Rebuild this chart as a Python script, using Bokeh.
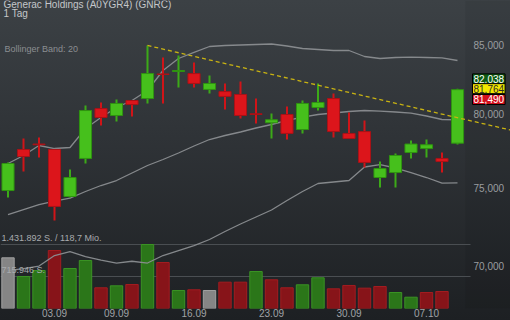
from bokeh.plotting import figure
from bokeh.models import (Range1d, LinearScale, FixedTicker, NumeralTickFormatter, Label,
                          ColumnDataSource)
from bokeh.embed import file_html
from bokeh.resources import INLINE

# ---------------- data ----------------
title_text = "Generac Holdings (A0YGR4) (GNRC)"
period_text = "1 Tag"
indicator_text = "Bollinger Band: 20"

dates = ["28.08", "29.08", "30.08", "03.09", "04.09", "05.09", "06.09", "09.09", "10.09", "11.09",
         "12.09", "13.09", "16.09", "17.09", "18.09", "19.09", "20.09", "23.09", "24.09", "25.09",
         "26.09", "27.09", "30.09", "01.10", "02.10", "03.10", "04.10", "07.10", "08.10", "09.10"]
tick_labels = ["03.09", "09.09", "16.09", "23.09", "30.09", "07.10"]

opens = [74830, 77580, 77950, 77580, 74440, 76970, 80420, 79930, 80990, 81130,
         82900, 83080, 82930, 81780, 81630, 81420, 80050, 79420, 80000, 78950,
         80490, 81130, 78680, 78810, 75690, 76020, 77370, 77640, 76970, 78010]
highs = [76700, 78330, 78400, 77600, 76230, 80630, 80850, 81060, 81000, 85000,
         84110, 84260, 83740, 82790, 82210, 82350, 81130, 80070, 80560, 80990,
         82210, 81490, 80140, 79580, 76760, 77300, 78190, 78260, 77370, 81830]
lows = [74370, 76090, 77030, 72880, 74370, 76630, 79230, 79510, 79860, 80780,
        80780, 81920, 81920, 81490, 80350, 79720, 79370, 78330, 78260, 78680,
        80280, 78400, 78330, 76360, 75030, 75030, 76970, 77030, 76020, 77920]
closes = [76630, 77100, 77900, 73790, 75690, 80280, 79790, 80780, 80700, 82930,
          82860, 83150, 82210, 82210, 81280, 79930, 80000, 79630, 78680, 80780,
          80850, 78810, 78330, 76700, 76290, 77170, 77950, 77900, 76760, 81764]

volume = [1134000, 716000, 850000, 1298000, 895000, 1074000, 463000, 507000, 537000, 1431892,
          1029000, 403000, 418000, 403000, 589000, 589000, 828000, 642000, 463000, 530000,
          687000, 440000, 515000, 455000, 492000, 358000, 253000, 358000, 380000]

bb_upper = [76628, 77168, 77850, 77644, 77713, 79020, 79789, 80493, 80990, 81704,
            83153, 84035, 84480, 84925, 85000, 85037, 85075, 85112, 84963, 84776,
            84702, 84628, 84628, 84183, 84035, 84108, 84131, 84108, 84086, 83887]
bb_middle = [73269, 73592, 73916, 74144, 74339, 74766, 75161, 75492, 75991, 76493,
             76898, 77338, 77816, 78261, 78537, 78779, 79056, 79300, 79579, 79810,
             80000, 80105, 80210, 80281, 80232, 80175, 80090, 79894, 79649, 79628]
bb_lower = [69751, 69873, 70027, 70677, 70925, 70615, 70397, 70212, 70323, 70212,
            70677, 70988, 71300, 71678, 72184, 72661, 73109, 73560, 74177, 74766,
            75293, 75392, 75492, 76393, 76560, 76326, 76024, 75691, 75313, 75338]

trend_x = [9, 33]
trend_y = [85000, 78770]

price_ticks = [70000, 75000, 80000, 85000]
vol_levels = [1431892, 715946]
vol_texts = ["1.431.892 S. / 118,7 Mio.", "715.946 S."]
quote_values = [82038, 81764, 81490]
quote_texts = ["82,038", "81,764", "81,490"]

# ---------------- styles ----------------
FONT = "Liberation Sans"
GREEN_BODY, GREEN_LINE, GREEN_WICK = "#46c01c", "#2f9410", "#3caa18"
RED_BODY, RED_LINE, RED_WICK = "#dc151b", "#a91217", "#d01418"
VOL_GREEN, VOL_GREEN_L = "#2b7619", "#3a9324"
VOL_RED, VOL_RED_L = "#871419", "#a31c20"
VOL_GRAY, VOL_GRAY_L = "#858585", "#a0a0a0"
BAND = "#8a8d90"

n = len(dates)
xs = list(range(n))
up = [c >= o for o, c in zip(opens, closes)]
x_lo = -0.484            # left frame edge in slot units
slot_px = 15.5           # one trading day in pixels
x_hi = x_lo + 510 / slot_px
axis_x = x_lo + 470 / slot_px

candles = ColumnDataSource(dict(
    x=xs,
    top=[max(o, c) for o, c in zip(opens, closes)],
    bottom=[min(o, c) for o, c in zip(opens, closes)],
    high=highs, low=lows,
    fill=[GREEN_BODY if u else RED_BODY for u in up],
    line=[GREEN_LINE if u else RED_LINE for u in up],
    wick=[GREEN_WICK if u else RED_WICK for u in up],
))

vfill, vline = [], []
for i in range(len(volume)):
    if i == 0 or closes[i] == closes[i - 1]:
        vfill.append(VOL_GRAY); vline.append(VOL_GRAY_L)
    elif closes[i] > closes[i - 1]:
        vfill.append(VOL_GREEN); vline.append(VOL_GREEN_L)
    else:
        vfill.append(VOL_RED); vline.append(VOL_RED_L)
vols = ColumnDataSource(dict(x=xs[:len(volume)], top=volume, fill=vfill, line=vline))

# ---------------- figure ----------------
p = figure(width=510, height=320, y_axis_type="log", y_axis_location="right",
           x_range=Range1d(x_lo, x_hi), y_range=Range1d(67463, 88427),
           output_backend="svg", toolbar_location=None,
           min_border_left=0, min_border_top=0, min_border_right=0, min_border_bottom=12)
p.extra_y_ranges = {"vol": Range1d(0, 6891000)}
p.extra_y_scales = {"vol": LinearScale()}
p.border_fill_color = None
p.background_fill_color = None
p.outline_line_color = None
p.styles = {"background": "linear-gradient(to bottom, #3c4145 0%, #303438 40%, #1d2023 100%)"}
p.xgrid.visible = False
p.ygrid.visible = False

# y axis (price), pinned inside the frame
p.yaxis.fixed_location = axis_x
p.yaxis.ticker = FixedTicker(ticks=price_ticks)
p.yaxis.formatter = NumeralTickFormatter(format="0,0")
p.yaxis.axis_line_color = None
p.yaxis.major_tick_line_color = None
p.yaxis.minor_tick_line_color = None
p.yaxis.major_tick_out = 0
p.yaxis.major_label_standoff = 3
p.yaxis.major_label_text_color = "#9a9da0"
p.yaxis.major_label_text_font_size = "10px"
p.yaxis.major_label_text_font = FONT

# x axis (dates)
tick_idx = [dates.index(t) for t in tick_labels]
p.xaxis.ticker = FixedTicker(ticks=tick_idx)
p.xaxis.major_label_overrides = {i: dates[i] for i in tick_idx}
p.xaxis.axis_line_color = None
p.xaxis.major_tick_line_color = None
p.xaxis.minor_tick_line_color = None
p.xaxis.major_tick_out = 0
p.xaxis.major_label_standoff = 0
p.xaxis.major_label_text_color = "#a0a3a6"
p.xaxis.major_label_text_font_size = "10px"
p.xaxis.major_label_text_font = FONT

# slightly darker strip right of the last bar
p.quad(left=[n - 0.5], right=[x_hi], bottom=[67463], top=[88427],
       fill_color="#000000", fill_alpha=0.06, line_color=None)

# volume grid lines
p.segment(x0=[x_lo] * len(vol_levels), x1=[axis_x] * len(vol_levels),
          y0=vol_levels, y1=vol_levels, y_range_name="vol",
          line_color="#4a4e52", line_width=1)

# volume bars
p.vbar(x="x", top="top", bottom=0, width=0.8, source=vols, y_range_name="vol",
       fill_color="fill", line_color="line", line_width=1)

# bollinger bands
for band in (bb_upper, bb_middle, bb_lower):
    p.line(xs, band, line_color=BAND, line_width=1.3, line_alpha=0.95)

# candles
p.segment(x0="x", y0="high", x1="x", y1="low", source=candles, line_color="wick", line_width=2)
p.vbar(x="x", top="top", bottom="bottom", width=0.78, source=candles,
       fill_color="fill", line_color="line", line_width=1)

# trend line
p.line(trend_x, trend_y, line_color="#c9b312", line_width=1.3, line_dash="4 3")

for lvl, txt in zip(vol_levels, vol_texts):
    p.add_layout(Label(x=1, y=lvl, x_units="screen", y_range_name="vol", y_offset=2,
                       text=txt, text_font=FONT, text_font_size="9px", text_color="#a8abae"))

# header texts
p.add_layout(Label(x=3, y=299, x_units="screen", y_units="screen", text=title_text,
                   text_font=FONT, text_font_size="10px", text_color="#c4c7ca"))
p.add_layout(Label(x=3, y=290, x_units="screen", y_units="screen", text=period_text,
                   text_font=FONT, text_font_size="10px", text_color="#c4c7ca"))
p.add_layout(Label(x=4, y=255, x_units="screen", y_units="screen", text=indicator_text,
                   text_font=FONT, text_font_size="9px", text_color="#8b8e91"))

# quote boxes
box_styles = [("#0f5c12", "#ffffff"), ("#f2e600", "#2a2a2a"), ("#d3101c", "#ffffff")]
for val, txt, off, (bg, fg) in zip(quote_values, quote_texts, [7, 1, -6], box_styles):
    p.add_layout(Label(x=472, y=val, x_units="screen", y_offset=off, text=txt,
                       text_baseline="middle", text_font=FONT, text_font_size="10px",
                       text_color=fg, background_fill_color=bg,
                       border_line_color="#000000", border_line_width=1, padding=1))

open("out.html", "w").write(file_html(p, INLINE))
